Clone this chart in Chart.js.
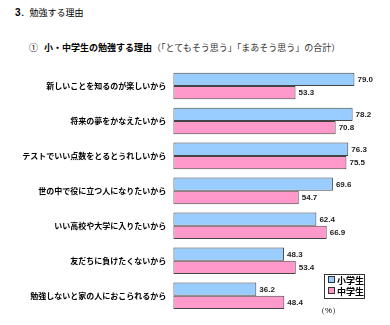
<!DOCTYPE html>
<html lang="ja">
<head>
<meta charset="utf-8">
<script src="https://cdn.jsdelivr.net/npm/chart.js@4.4.1/dist/chart.umd.min.js"></script>
<style>
  html, body { margin: 0; padding: 0; background: #fff; }
  body { width: 390px; height: 325px; position: relative; overflow: hidden;
         font-family: 'Noto Sans CJK JP', sans-serif; color: #000; }
  #wrap { position: absolute; left: 0; top: 0; width: 390px; height: 325px; }
  .t1 { position: absolute; left: 15px; top: 5px; font-size: 9px; line-height: 16px; }
  .t1 b { font-family: 'Liberation Sans', Arial, sans-serif; font-size: 10px; }
  .t2 { position: absolute; left: 29px; top: 40px; font-size: 9px; line-height: 16px; white-space: nowrap; }
  .t2 .sub { font-weight: normal; color: #333; }
  .legend { position: absolute; left: 324px; top: 274px; width: 39px; height: 23px;
            border: 1px solid #333; font-size: 9px; font-weight: bold; }
  .legend div { position: absolute; left: 3px; height: 11px; line-height: 11px; white-space: nowrap; }
  .legend i { display: inline-block; width: 5px; height: 5px; border: 1px solid #333;
              margin-right: 2px; vertical-align: 1px; }
  .unit { position: absolute; left: 317px; top: 304px; font-size: 8px; line-height: 14px;
          font-family: 'Liberation Sans', Arial, sans-serif; }
</style>
</head>
<body>
<div class="t1"><b>3</b>．勉強する理由</div>
<div class="t2">①&nbsp;&nbsp;&nbsp;<b>小・中学生の勉強する理由</b><span class="sub">（「とてもそう思う」「まあそう思う」の合計）</span></div>
<div id="wrap"><canvas id="chartRiyu" width="390" height="325"></canvas></div>
<div class="legend">
  <div style="top:0px"><i style="background:#99CCFF"></i>小学生</div>
  <div style="top:11px"><i style="background:#FF99CC"></i>中学生</div>
</div>
<div class="unit">（%）</div>
<script>
// Donnees
const categories = [
  '新しいことを知るのが楽しいから',
  '将来の夢をかなえたいから',
  'テストでいい点数をとるとうれしいから',
  '世の中で役に立つ人になりたいから',
  'いい高校や大学に入りたいから',
  '友だちに負けたくないから',
  '勉強しないと家の人におこられるから',
];
const shogakusei = [79.0, 78.2, 76.3, 69.6, 62.4, 48.3, 36.2];
const chugakusei = [53.3, 70.8, 75.5, 54.7, 66.9, 53.4, 48.4];
const seriesNames = ['小学生', '中学生'];

// Valeurs affichees au bout de chaque barre
const valueLabels = {
  id: 'valueLabels',
  afterDatasetsDraw(chart) {
    const ctx = chart.ctx;
    ctx.save();
    ctx.font = 'bold 8px "Liberation Sans", Arial, sans-serif';
    ctx.fillStyle = '#222';
    ctx.textAlign = 'left';
    ctx.textBaseline = 'middle';
    chart.data.datasets.forEach((ds, i) => {
      chart.getDatasetMeta(i).data.forEach((bar, j) => {
        ctx.fillText(ds.data[j].toFixed(1), bar.x + 3, bar.y + 0.5);
      });
    });
    ctx.restore();
  },
};

new Chart(document.getElementById('chartRiyu'), {
  type: 'bar',
  data: {
    labels: categories,
    datasets: [
      {
        label: seriesNames[0],
        data: shogakusei,
        backgroundColor: '#99CCFF',
        borderColor: '#444',
        borderWidth: 1,
        borderSkipped: false,
      },
      {
        label: seriesNames[1],
        data: chugakusei,
        backgroundColor: '#FF99CC',
        borderColor: '#444',
        borderWidth: 1,
        borderSkipped: false,
      },
    ],
  },
  options: {
    responsive: false,
    animation: false,
    indexAxis: 'y',
    layout: { padding: { top: 68.5, bottom: 11.5, left: 0, right: 0 } },
    datasets: { bar: { barPercentage: 1, categoryPercentage: 0.76 } },
    plugins: {
      legend: { display: false },
      tooltip: { enabled: false },
    },
    scales: {
      x: { display: false, min: 0, max: 94.5 },
      y: {
        afterFit(scale) { scale.width = 173.3; },
        grid: { display: false, drawTicks: false },
        border: { display: false },
        ticks: {
          color: '#000',
          padding: 7,
          font: { family: "'Noto Sans CJK JP', sans-serif", size: 8, weight: 'bold' },
        },
      },
    },
  },
  plugins: [valueLabels],
});
</script>
</body>
</html>
